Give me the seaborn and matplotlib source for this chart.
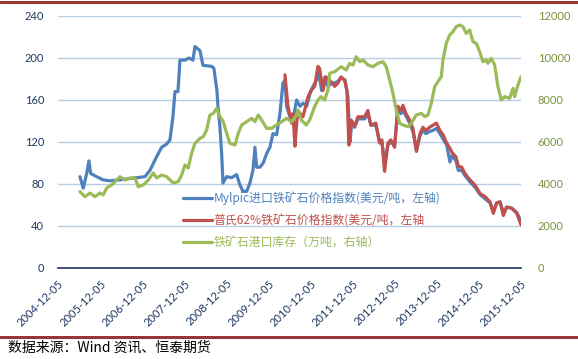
import matplotlib
matplotlib.use("Agg")
import matplotlib.pyplot as plt
from matplotlib.lines import Line2D
import numpy as np
import pandas as pd
import seaborn as sns

# ---------------- data (time in decimal years) ----------------
tick_labels = ["2004-12-05", "2005-12-05", "2006-12-05", "2007-12-05", "2008-12-05",
               "2009-12-05", "2010-12-05", "2011-12-05", "2012-12-05", "2013-12-05",
               "2014-12-05", "2015-12-05"]

blue_label = "Mylpic进口铁矿石价格指数(美元/吨，左轴)"
red_label = "普氏62%铁矿石价格指数(美元/吨，左轴"
green_label = "铁矿石港口库存（万吨，右轴）"

blue_t = [2005.448, 2005.526, 2005.607, 2005.662, 2005.702, 2005.844, 2005.994, 2006.160,
          2006.398, 2006.795, 2006.992, 2007.111, 2007.270, 2007.389, 2007.508, 2007.586,
          2007.657, 2007.705, 2007.776, 2007.824, 2007.942, 2008.037, 2008.133, 2008.180,
          2008.299, 2008.370, 2008.584, 2008.630, 2008.702, 2008.726, 2008.774, 2008.814,
          2008.845, 2008.932, 2009.051, 2009.170, 2009.249, 2009.320, 2009.408, 2009.486,
          2009.558, 2009.605, 2009.645, 2009.724, 2009.802, 2009.883, 2009.961, 2010.033,
          2010.120, 2010.199, 2010.270, 2010.318, 2010.358, 2010.437, 2010.508, 2010.596,
          2010.675, 2010.746, 2010.834, 2010.912, 2010.984, 2011.072, 2011.114, 2011.190,
          2011.268, 2011.340, 2011.428, 2011.546, 2011.665, 2011.744, 2011.815, 2011.862,
          2011.910, 2011.980, 2012.050, 2012.209, 2012.288, 2012.359, 2012.478, 2012.566,
          2012.620, 2012.684, 2012.765, 2012.835, 2012.923, 2013.000, 2013.074, 2013.122,
          2013.193, 2013.280, 2013.359, 2013.442, 2013.525, 2013.596, 2013.668, 2013.755,
          2013.834, 2013.917, 2014.000, 2014.072, 2014.160, 2014.238, 2014.286, 2014.381,
          2014.436, 2014.517, 2014.595, 2014.714, 2014.833, 2014.952, 2015.071, 2015.190,
          2015.268, 2015.349, 2015.427, 2015.506, 2015.587, 2015.706, 2015.825, 2015.920]
blue_v = [87, 76, 90, 102, 90, 87, 84, 83,
          84, 86, 87, 93, 106, 115, 118, 122,
          144, 168, 168, 198, 198, 200, 198, 211,
          207, 193, 192, 190, 169, 154, 134, 109,
          81, 87, 86, 89, 79, 73, 73, 81,
          93, 115, 96, 96, 100, 109, 115, 128,
          127, 147, 176, 179, 154, 144, 141, 160,
          154, 157, 154, 166, 173, 179, 188, 169,
          182, 173, 176, 177, 181, 179, 163, 120,
          140, 135, 142, 142, 147, 136, 136, 120,
          121, 100, 117, 120, 117, 150, 147, 150,
          145, 138, 130, 112, 126, 131, 128, 130,
          131, 133, 128, 123, 117, 101, 107, 102,
          93, 93, 88, 82, 77, 70, 66, 62,
          54, 62, 63, 53, 58, 57, 53, 45]

red_t = [2010.318, 2010.389, 2010.477, 2010.508, 2010.556, 2010.596, 2010.627, 2010.675,
         2010.746, 2010.865, 2010.936, 2011.024, 2011.102, 2011.142, 2011.220, 2011.292,
         2011.380, 2011.498, 2011.576, 2011.647, 2011.735, 2011.790, 2011.837, 2011.884,
         2011.972, 2012.050, 2012.209, 2012.288, 2012.359, 2012.478, 2012.566, 2012.620,
         2012.684, 2012.765, 2012.835, 2012.923, 2013.000, 2013.074, 2013.122, 2013.193,
         2013.280, 2013.359, 2013.442, 2013.525, 2013.596, 2013.668, 2013.755, 2013.834,
         2013.917, 2014.000, 2014.072, 2014.160, 2014.238, 2014.286, 2014.381, 2014.436,
         2014.517, 2014.595, 2014.714, 2014.833, 2014.952, 2015.071, 2015.190, 2015.268,
         2015.349, 2015.427, 2015.506, 2015.587, 2015.706, 2015.825, 2015.926]
red_v = [184, 154, 138, 147, 116, 138, 150, 147,
         144, 163, 169, 173, 192, 190, 169, 182,
         179, 173, 176, 182, 179, 169, 117, 141,
         134, 144, 144, 150, 136, 138, 119, 122,
         92, 119, 122, 115, 154, 150, 155, 147,
         141, 133, 111, 128, 134, 131, 134, 136,
         138, 131, 127, 119, 114, 110, 106, 97,
         96, 90, 84, 79, 71, 68, 63, 52,
         62, 63, 50, 58, 57, 52, 41]

green_t = [2005.448, 2005.567, 2005.686, 2005.804, 2005.923, 2006.000, 2006.082, 2006.200,
           2006.320, 2006.398, 2006.517, 2006.636, 2006.754, 2006.833, 2006.952, 2007.071,
           2007.190, 2007.270, 2007.389, 2007.508, 2007.664, 2007.783, 2007.864, 2007.942,
           2008.020, 2008.100, 2008.180, 2008.299, 2008.377, 2008.458, 2008.536, 2008.615,
           2008.695, 2008.774, 2008.852, 2008.933, 2009.011, 2009.130, 2009.209, 2009.290,
           2009.408, 2009.527, 2009.605, 2009.684, 2009.764, 2009.883, 2010.002, 2010.120,
           2010.240, 2010.358, 2010.477, 2010.596, 2010.627, 2010.705, 2010.824, 2010.905,
           2011.024, 2011.102, 2011.181, 2011.262, 2011.340, 2011.381, 2011.500, 2011.656,
           2011.775, 2011.855, 2011.934, 2012.012, 2012.093, 2012.171, 2012.290, 2012.409,
           2012.528, 2012.647, 2012.725, 2012.806, 2012.884, 2012.963, 2013.044, 2013.122,
           2013.241, 2013.319, 2013.438, 2013.557, 2013.638, 2013.716, 2013.794, 2013.875,
           2013.953, 2014.032, 2014.072, 2014.150, 2014.231, 2014.309, 2014.387, 2014.468,
           2014.547, 2014.625, 2014.706, 2014.784, 2014.863, 2014.944, 2015.022, 2015.100,
           2015.141, 2015.220, 2015.300, 2015.378, 2015.457, 2015.538, 2015.657, 2015.735,
           2015.775, 2015.854, 2015.926]
green_v = [3633, 3395, 3570, 3395, 3570, 3476, 3810, 3952,
           4190, 4348, 4190, 4286, 4286, 3871, 3952, 4190,
           4524, 4286, 4429, 4348, 4048, 4110, 4429, 4905,
           4762, 5460, 5937, 6175, 6254, 6571, 7286, 7365,
           7603, 7206, 6968, 6413, 5937, 5857, 6413, 6810,
           6968, 7127, 6968, 7286, 7048, 6651, 6651, 6810,
           6968, 7127, 6968, 7286, 7524, 7048, 6810, 7048,
           7683, 8000, 8159, 8000, 8476, 9270, 9349, 9587,
           9429, 9746, 9667, 10063, 9825, 9905, 9667, 9587,
           9746, 9825, 9587, 8952, 8317, 7524, 6889, 6810,
           6730, 6889, 7286, 7365, 7206, 7286, 7841, 8635,
           8873, 9111, 9905, 10698, 11095, 11254, 11492, 11571,
           11492, 11175, 11333, 10778, 10698, 10302, 9825, 9905,
           9746, 9984, 9667, 8635, 8000, 8159, 8079, 8556,
           8159, 8714, 9111]

left_ticks = [0, 40, 80, 120, 160, 200, 240]
right_ticks = [0, 2000, 4000, 6000, 8000, 10000, 12000]

# ---------------- styling ----------------
sns.set_style("white")
plt.rcParams['font.family'] = ['Lato', 'Noto Sans CJK SC', 'DejaVu Sans']

C_BLUE = "#4F81BD"
C_RED = "#C0504D"
C_GREEN = "#9BBB59"
NAVY = "#1F3864"
OLIVE = "#77933C"
GRID = "#B9CDE5"
RULE = "#953735"


def dec_year(s):
    d = pd.Timestamp(s)
    start = pd.Timestamp(year=d.year, month=1, day=1)
    end = pd.Timestamp(year=d.year + 1, month=1, day=1)
    return d.year + (d - start) / (end - start)


tick_pos = [dec_year(s) for s in tick_labels]

W, H = 578, 359
fig = plt.figure(figsize=(W / 100, H / 100), dpi=100)
ax = fig.add_axes([58 / W, (H - 268) / H, (521 - 58) / W, (268 - 16) / H])
ax2 = ax.twinx()

df_b = pd.DataFrame({"t": blue_t, "v": blue_v})
df_r = pd.DataFrame({"t": red_t, "v": red_v})
df_g = pd.DataFrame({"t": green_t, "v": green_v})

LW = 2.3
sns.lineplot(data=df_b, x="t", y="v", ax=ax, color=C_BLUE, lw=LW, sort=False,
             estimator=None, label=blue_label, legend=False)
sns.lineplot(data=df_r, x="t", y="v", ax=ax, color=C_RED, lw=LW, sort=False,
             estimator=None, label=red_label, legend=False)
sns.lineplot(data=df_g, x="t", y="v", ax=ax2, color=C_GREEN, lw=LW, sort=False,
             estimator=None, label=green_label, legend=False)

ax.set_xlim(tick_pos[0], tick_pos[-1])
ax.set_ylim(0, 240)
ax2.set_ylim(0, 12000)
ax.set_xlabel("")
ax.set_ylabel("")
ax2.set_ylabel("")

ax.set_yticks(left_ticks)
ax.set_yticklabels([str(v) for v in left_ticks])
ax2.set_yticks(right_ticks)
ax2.set_yticklabels([str(v) for v in right_ticks])
ax.set_xticks(tick_pos)
ax.set_xticklabels(tick_labels, rotation=45, ha="right", rotation_mode="anchor")

ax.tick_params(axis="y", length=0, pad=10, labelsize=8, labelcolor=NAVY)
ax2.tick_params(axis="y", length=0, pad=12, labelsize=8, labelcolor=OLIVE)
ax.tick_params(axis="x", length=4, width=1, color=NAVY, pad=3, labelsize=8,
               labelcolor=NAVY, direction="out")

for a in (ax, ax2):
    for s in ("top", "left", "right", "bottom"):
        a.spines[s].set_visible(False)
ax.spines["bottom"].set_visible(True)
ax.spines["bottom"].set_color(NAVY)
ax.spines["bottom"].set_linewidth(1.2)

ax.yaxis.grid(True, color=GRID, lw=1)
ax.xaxis.grid(False)
ax2.grid(False)
ax.set_axisbelow(True)

handles = [ax.get_lines()[0], ax.get_lines()[1], ax2.get_lines()[0]]
leg = ax2.legend(handles, [blue_label, red_label, green_label], loc="upper left",
                 bbox_to_anchor=(183 / W, (H - 191) / H), bbox_transform=fig.transFigure,
                 frameon=False, handlelength=2.4, handletextpad=0.15,
                 labelspacing=0.78, borderpad=0, borderaxespad=0, labelcolor="linecolor",
                 prop={"family": ["Noto Sans CJK SC"], "size": 8.6})

fig.add_artist(Line2D([0, 1], [1 - 2 / H, 1 - 2 / H], color=RULE, lw=2.2,
                      transform=fig.transFigure))
fig.add_artist(Line2D([0, 1], [1 - 337 / H, 1 - 337 / H], color=RULE, lw=2.2,
                      transform=fig.transFigure))
fig.text(8 / W, 1 - 348 / H, "数据来源：Wind 资讯、恒泰期货", fontsize=10, color="black",
         va="center", ha="left", family=["Noto Sans CJK SC"])

fig.savefig("out.png", dpi=100)
